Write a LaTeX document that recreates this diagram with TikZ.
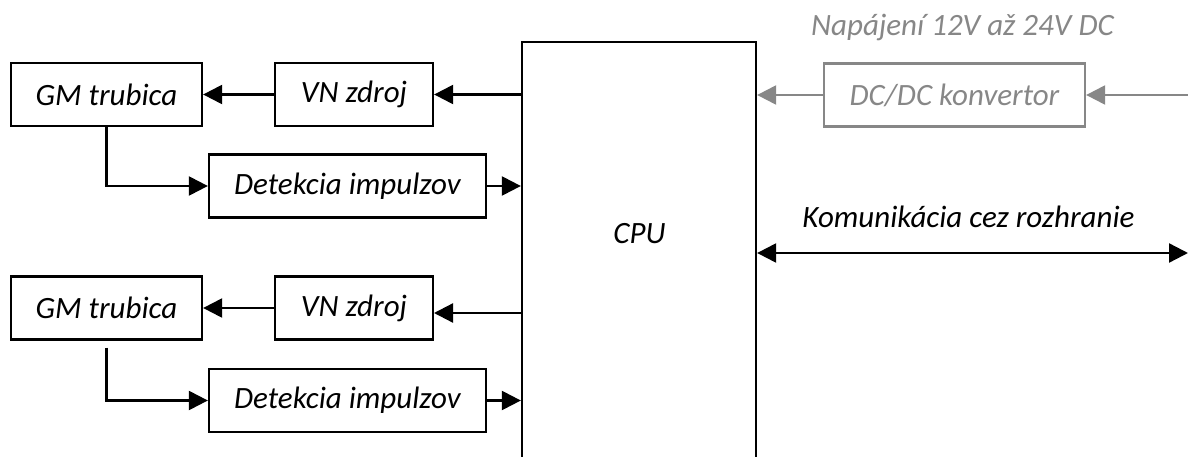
\documentclass[tikz,border=0pt]{standalone}
\usepackage{fontspec}
\setmainfont{Carlito}
\usetikzlibrary{arrows.meta}
\definecolor{graycol}{RGB}{135,135,135}
\begin{document}
\begin{tikzpicture}[x=1pt,y=-1pt,
  labeltext/.style={font=\fontsize{31}{37}\selectfont\itshape},
  blk/.style={draw, line width=2.3pt, minimum height=63pt, inner sep=0pt, labeltext},
  gblk/.style={blk, draw=graycol, text=graycol},
  arr/.style={line width=2.3pt, -{Triangle[length=19pt,width=19pt]}},
  garr/.style={line width=2.3pt, draw=graycol, -{Triangle[length=19pt,width=19pt,fill=graycol]}},
  biarr/.style={line width=2.3pt, {Triangle[length=19pt,width=19pt]}-{Triangle[length=19pt,width=19pt]}}]
\useasboundingbox (0,0) rectangle (1188,457);
\clip (0,0) rectangle (1188,457);

% central processor, open towards the bottom edge
\node[draw, line width=2.3pt, minimum width=234pt, minimum height=460pt, anchor=north] (cpu) at (639,41) {};
\node[labeltext, anchor=base] (cpulbl) at (639.5,243) {CPU};

% upper channel
\node[blk, minimum width=191pt] (gm1) at (106.5,94.5) {GM trubica};
\node[blk, minimum width=158pt] (vn1) at (354,94.5) {VN zdroj};
\node[blk, minimum width=277pt] (det1) at (347.5,186) {Detekcia impulzov};

% lower channel
\node[blk, minimum width=191pt] (gm2) at (106.5,308) {GM trubica};
\node[blk, minimum width=158pt] (vn2) at (354,308) {VN zdroj};
\node[blk, minimum width=277pt] (det2) at (347.5,400.5) {Detekcia impulzov};

% power supply branch
\node[gblk, minimum width=261pt] (dc) at (954.5,95) {DC/DC konvertor};
\node[labeltext, text=graycol, anchor=base] (pwrlbl) at (962.5,36) {Napájení 12V až 24V DC};
\coordinate (pwrin) at (1188,95);

% communication interface
\coordinate (commend) at (1188,253);
\node[labeltext, anchor=base] (commlbl) at (968.5,227) {Komunikácia cez rozhranie};

% connectors, upper channel
\draw[arr] (vn1.east -| cpu.west) -- (vn1.east);
\draw[arr] (vn1.west) -- (gm1.east);
\draw[arr] (gm1.south) |- (det1.west);
\draw[arr] (det1.east) -- (det1.east -| cpu.west);

% connectors, lower channel
\coordinate (vn2in) at (434,313);
\draw[arr] (vn2in -| cpu.west) -- (vn2in);
\draw[arr] (vn2.west) -- (gm2.east);
\draw[arr] ([yshift=-7pt]gm2.south) |- (det2.west);
\draw[arr] (det2.east) -- (det2.east -| cpu.west);

% power and interface connectors
\draw[garr] (pwrin) -- (dc.east);
\draw[garr] (dc.west) -- (dc.west -| cpu.east);
\draw[biarr] (commend -| cpu.east) -- (commend);
\end{tikzpicture}
\end{document}
